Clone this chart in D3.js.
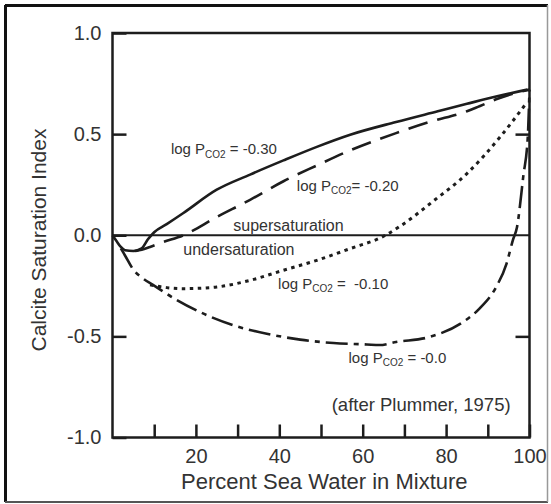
<!DOCTYPE html>
<html>
<head>
<meta charset="utf-8">
<script src="https://cdn.jsdelivr.net/npm/d3@7"></script>
<style>
  html, body { margin: 0; padding: 0; background: #fff; }
  svg { display: block; font-family: "Liberation Sans", Arial, Helvetica, sans-serif; }
</style>
</head>
<body>
<svg id="chart" width="551" height="504"></svg>
<script>
// ---- data ----
const xTickValues = [10, 20, 30, 40, 50, 60, 70, 80, 90, 100];
const xTickLabels = ["", "20", "", "40", "", "60", "", "80", "", "100"];
const yTickValues = [-1, -0.5, 0, 0.5, 1];
const yTickLabels = ["-1.0", "-0.5", "0.0", "0.5", "1.0"];

// log PCO2 = -0.30 (solid)
const pctA = [0, 1, 2, 3, 5, 7, 8.5, 10, 13, 17, 25, 33, 41, 49, 57, 68, 78, 85, 92, 99.5];
const siA  = [0, -0.03, -0.058, -0.074, -0.078, -0.065, -0.02, 0.015, 0.055, 0.11, 0.225, 0.30, 0.37, 0.437, 0.497, 0.56, 0.613, 0.65, 0.686, 0.72];
// log PCO2 = -0.20 (dashed)
const pctB = [5.5, 7, 9, 12, 17, 25, 33, 41, 49, 57, 68, 76, 85, 88, 92, 96, 100];
const siB  = [-0.078, -0.072, -0.058, -0.035, 0.0, 0.09, 0.175, 0.267, 0.345, 0.42, 0.505, 0.56, 0.613, 0.638, 0.672, 0.70, 0.72];
// log PCO2 = -0.10 (dotted)
const pctC = [9, 13, 17, 21, 25, 33, 41, 49, 57, 65, 69, 77, 85, 93, 99.3];
const siC  = [-0.245, -0.259, -0.264, -0.262, -0.256, -0.223, -0.173, -0.124, -0.066, -0.005, 0.045, 0.17, 0.305, 0.487, 0.655];
// log PCO2 = -0.0 (dash-dot)
const pctD = [2, 3, 5, 7.4, 9.8, 15.4, 21, 29, 37, 45, 53, 61, 64, 68, 76, 84, 88, 92, 94.5, 96, 97, 98.5, 99.6, 100];
const siD  = [-0.065, -0.1, -0.17, -0.215, -0.247, -0.32, -0.38, -0.445, -0.487, -0.516, -0.533, -0.54, -0.543, -0.528, -0.503, -0.43, -0.363, -0.256, -0.14, -0.025, 0.04, 0.29, 0.49, 0.72];

const curveLabels = [
  { name: "-0.30", pct: 14.0, si: 0.40, pre: "log P", sub: "CO2", post: " = -0.30" },
  { name: "-0.20", pct: 44.2, si: 0.22, pre: "log P", sub: "CO2", post: "= -0.20" },
  { name: "-0.10", pct: 39.7, si: -0.265, pre: "log P", sub: "CO2", post: " =  -0.10" },
  { name: "-0.0",  pct: 56.6, si: -0.63, pre: "log P", sub: "CO2", post: " = -0.0" }
];

// ---- layout ----
const svg = d3.select("#chart");
const x = d3.scaleLinear().domain([0, 100]).range([112.5, 529.5]);
const y = d3.scaleLinear().domain([-1, 1]).range([437.5, 33]);
const ink = "#1d1d1d";
const textInk = "#333";

// outer frame
svg.append("line").attr("x1", 5).attr("y1", 5.5).attr("x2", 548).attr("y2", 5.5).attr("stroke", "#111").attr("stroke-width", 3);
svg.append("line").attr("x1", 5.5).attr("y1", 5).attr("x2", 5.5).attr("y2", 502).attr("stroke", "#111").attr("stroke-width", 3);
svg.append("line").attr("x1", 5).attr("y1", 502).attr("x2", 548).attr("y2", 502).attr("stroke", "#555").attr("stroke-width", 2);
svg.append("line").attr("x1", 547.5).attr("y1", 5).attr("x2", 547.5).attr("y2", 502).attr("stroke", "#999").attr("stroke-width", 1.5);

// axes
const xAxis = d3.axisBottom(x).tickValues(xTickValues)
  .tickFormat((d, i) => xTickLabels[i]).tickSizeInner(-13).tickSizeOuter(0).tickPadding(11.5);
const gx = svg.append("g").attr("transform", `translate(0,${y(-1)})`).call(xAxis);
gx.select(".domain").remove();
gx.selectAll(".tick line").attr("stroke", ink).attr("stroke-width", 2.5);
gx.selectAll(".tick text").attr("fill", textInk).attr("font-size", 20).attr("font-family", "Liberation Sans, Arial, sans-serif");

const yAxis = d3.axisLeft(y).tickValues(yTickValues)
  .tickFormat((d, i) => yTickLabels[i]).tickSizeInner(-14).tickSizeOuter(0).tickPadding(11);
const gy = svg.append("g").attr("transform", `translate(${x(0)},0)`).call(yAxis);
gy.select(".domain").remove();
gy.selectAll(".tick line").attr("stroke", ink).attr("stroke-width", 2.5);
gy.selectAll(".tick text").attr("fill", textInk).attr("font-size", 20).attr("font-family", "Liberation Sans, Arial, sans-serif");

// right side inward ticks at +/-0.5
const yAxisR = d3.axisRight(y).tickValues([-0.5, 0.5]).tickFormat("").tickSizeInner(-14).tickSizeOuter(0);
const gyr = svg.append("g").attr("transform", `translate(${x(100)},0)`).call(yAxisR);
gyr.select(".domain").remove();
gyr.selectAll(".tick line").attr("stroke", ink).attr("stroke-width", 2.5);

// plot box
svg.append("rect").attr("x", x(0)).attr("y", y(1)).attr("width", x(100) - x(0)).attr("height", y(-1) - y(1))
  .attr("fill", "none").attr("stroke", ink).attr("stroke-width", 2.5);

// zero line
svg.append("line").attr("x1", x(0)).attr("x2", x(100)).attr("y1", y(0)).attr("y2", y(0))
  .attr("stroke", ink).attr("stroke-width", 2.2);

// curves
const line = d3.line().x(d => x(d[0])).y(d => y(d[1])).curve(d3.curveMonotoneX);
const curves = [
  { p: pctA, s: siA, dash: null, w: 2.6 },
  { p: pctB, s: siB, dash: "20,10", w: 2.6 },
  { p: pctC, s: siC, dash: "3.5,4.5", w: 3 },
  { p: pctD, s: siD, dash: "22,6,5,6", w: 2.6 }
];
curves.forEach(c => {
  const pts = c.p.map((v, i) => [v, c.s[i]]);
  svg.append("path").datum(pts).attr("d", line).attr("fill", "none")
    .attr("stroke", ink).attr("stroke-width", c.w)
    .attr("stroke-dasharray", c.dash).attr("stroke-linejoin", "round");
});

// curve labels
curveLabels.forEach(l => {
  const t = svg.append("text").attr("x", x(l.pct)).attr("y", y(l.si))
    .attr("font-size", 15).attr("fill", textInk).attr("xml:space", "preserve");
  t.append("tspan").text(l.pre);
  t.append("tspan").attr("font-size", 10).attr("dy", 3.5).text(l.sub);
  t.append("tspan").attr("dy", -3.5).text(l.post);
});

// region labels
svg.append("text").attr("x", 233.3).attr("y", 230.5).attr("font-size", 16).attr("fill", textInk).text("supersaturation");
svg.append("text").attr("x", 183.3).attr("y", 255).attr("font-size", 16).attr("fill", textInk).text("undersaturation");
svg.append("text").attr("x", 331.7).attr("y", 411).attr("font-size", 18.5).attr("fill", textInk).text("(after Plummer, 1975)");

// axis titles
svg.append("text").attr("x", 324.3).attr("y", 488.5).attr("text-anchor", "middle")
  .attr("font-size", 22).attr("fill", textInk).text("Percent Sea Water in Mixture");
svg.append("text").attr("transform", "translate(45.5,240) rotate(-90)").attr("text-anchor", "middle")
  .attr("font-size", 21).attr("fill", textInk).text("Calcite Saturation Index");
</script>
</body>
</html>
